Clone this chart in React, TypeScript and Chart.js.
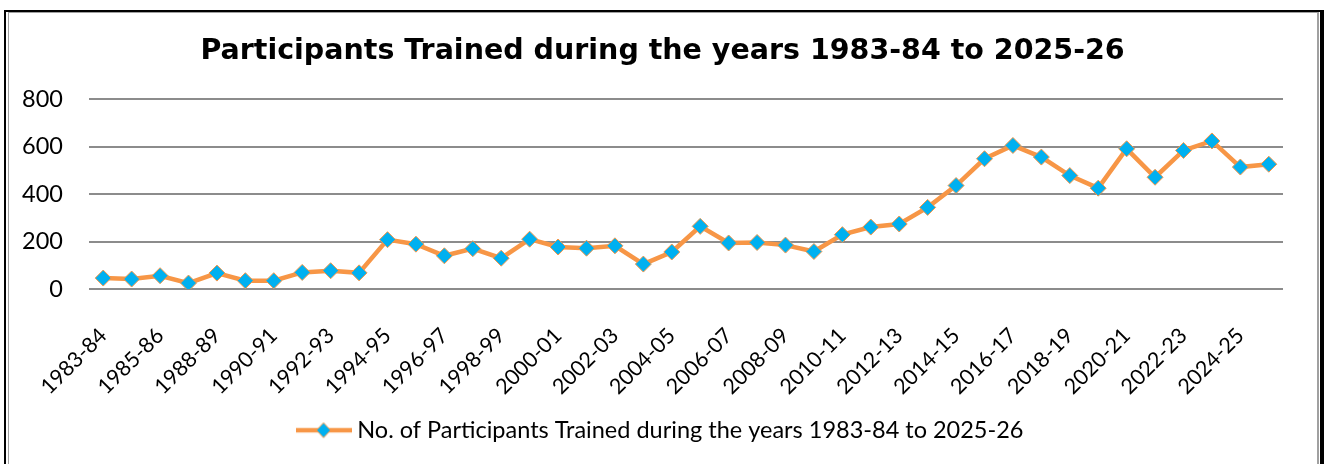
import React, { useEffect, useRef } from "react";
import { Chart, registerables } from "chart.js";

Chart.register(...registerables);

const categories: string[] = [
  "1983-84", "1984-85", "1985-86", "1986-87", "1988-89", "1989-90", "1990-91",
  "1991-92", "1992-93", "1993-94", "1994-95", "1995-96", "1996-97", "1997-98",
  "1998-99", "1999-00", "2000-01", "2001-02", "2002-03", "2003-04", "2004-05",
  "2005-06", "2006-07", "2007-08", "2008-09", "2009-10", "2010-11", "2011-12",
  "2012-13", "2013-14", "2014-15", "2015-16", "2016-17", "2017-18", "2018-19",
  "2019-20", "2020-21", "2021-22", "2022-23", "2023-24", "2024-25", "2025-26",
];

const participants: number[] = [
  46, 42, 56, 25, 67, 35, 35, 70, 77, 68,
  208, 189, 140, 170, 130, 210, 177, 172, 182, 105,
  156, 264, 194, 196, 185, 158, 229, 261, 274, 344,
  436, 549, 605, 556, 478, 425, 591, 471, 584, 624,
  514, 526,
];

const yTicks: number[] = [0, 200, 400, 600, 800];

const chartTitle = "Participants Trained during the years 1983-84 to 2025-26";
const seriesLabel = "No. of Participants Trained during the years 1983-84 to 2025-26";

const LINE_COLOR = "#F79646";
const MARKER_FILL = "#00B0F0";
const GRID_COLOR = "#8c8c8c";
const TICK_FONT = "Lato";

export default function App() {
  const canvasRef = useRef<HTMLCanvasElement | null>(null);

  useEffect(() => {
    const canvas = canvasRef.current;
    if (!canvas) return;

    // legend marker: line with a diamond
    const marker = document.createElement("canvas");
    marker.width = 56;
    marker.height = 20;
    const mctx = marker.getContext("2d");
    if (mctx) {
      mctx.strokeStyle = LINE_COLOR;
      mctx.lineWidth = 4.5;
      mctx.beginPath();
      mctx.moveTo(0, 10);
      mctx.lineTo(56, 10);
      mctx.stroke();
      mctx.beginPath();
      mctx.moveTo(28, 2.5);
      mctx.lineTo(35, 10);
      mctx.lineTo(28, 17.5);
      mctx.lineTo(21, 10);
      mctx.closePath();
      mctx.fillStyle = MARKER_FILL;
      mctx.fill();
      mctx.lineWidth = 1;
      mctx.strokeStyle = LINE_COLOR;
      mctx.stroke();
    }

    const chart = new Chart(canvas, {
      type: "line",
      data: {
        labels: categories,
        datasets: [
          {
            label: seriesLabel,
            data: participants,
            borderColor: LINE_COLOR,
            borderWidth: 4.5,
            tension: 0,
            pointStyle: "rectRot",
            pointRadius: 8,
            pointBackgroundColor: MARKER_FILL,
            pointBorderColor: LINE_COLOR,
            pointBorderWidth: 1,
            yAxisID: "y",
          },
        ],
      },
      options: {
        responsive: false,
        animation: false,
        layout: { padding: { left: 0, right: 0, top: 0, bottom: 12 } },
        plugins: {
          tooltip: { enabled: false },
          title: {
            display: true,
            text: chartTitle,
            color: "#000",
            font: { family: "DejaVu Sans", weight: "bold", size: 28.5 },
            padding: { top: 34, bottom: 31 },
          },
          legend: {
            display: true,
            position: "bottom",
            labels: {
              color: "#000",
              font: { family: TICK_FONT, size: 23.5 },
              usePointStyle: true,
              pointStyleWidth: 44,
              padding: 10,
              generateLabels: () => [
                {
                  text: seriesLabel,
                  pointStyle: marker as any,
                  fillStyle: MARKER_FILL,
                  strokeStyle: LINE_COLOR,
                  lineWidth: 0,
                  hidden: false,
                  datasetIndex: 0,
                },
              ],
            },
          },
        },
        scales: {
          x: {
            type: "category",
            offset: true,
            grid: { display: false, drawTicks: false },
            border: { display: false },
            ticks: {
              autoSkip: false,
              minRotation: 45,
              maxRotation: 45,
              padding: 34,
              color: "#000",
              font: { family: TICK_FONT, size: 21.5 },
              callback: (_v: any, i: number) => (i % 2 === 0 ? categories[i] : ""),
            },
            afterFit: (s: any) => {
              s.height = 119.5;
            },
          },
          y: {
            type: "linear",
            position: "left",
            min: 0,
            max: 800,
            afterBuildTicks: (s: any) => {
              s.ticks = yTicks.map((v) => ({ value: v }));
            },
            grid: { color: GRID_COLOR, lineWidth: 2, drawTicks: false },
            border: { display: false },
            ticks: {
              padding: 26,
              color: "#000",
              font: { family: TICK_FONT, size: 23.5 },
            },
            afterFit: (s: any) => {
              s.width = 89;
            },
          },
          yR: {
            type: "linear",
            position: "right",
            display: true,
            grid: { display: false, drawTicks: false },
            border: { display: false },
            ticks: { display: false },
            afterFit: (s: any) => {
              s.width = 42;
            },
          },
        },
      },
    });

    return () => {
      chart.destroy();
    };
  }, []);

  return (
    <div
      style={{
        position: "fixed",
        left: 0,
        top: 0,
        width: 1325,
        height: 464,
        overflow: "hidden",
        background: "#fff",
      }}
    >
      <canvas
        ref={canvasRef}
        width={1325}
        height={464}
        style={{ position: "absolute", left: 0, top: 0, width: 1325, height: 464 }}
      />
      <div
        style={{
          position: "absolute",
          left: 4,
          top: 10,
          width: 1320,
          height: 500,
          boxSizing: "border-box",
          borderLeft: "2px solid #000",
          borderTop: "2px solid #000",
          borderRight: "4px solid #000",
          pointerEvents: "none",
        }}
      />
      <div
        style={{
          position: "absolute",
          left: 8,
          top: 12,
          width: 1311,
          height: 500,
          boxSizing: "border-box",
          borderLeft: "1px solid #a0a0a0",
          borderTop: "1px solid #a0a0a0",
          borderRight: "2px solid #a0a0a0",
          pointerEvents: "none",
        }}
      />
    </div>
  );
}
